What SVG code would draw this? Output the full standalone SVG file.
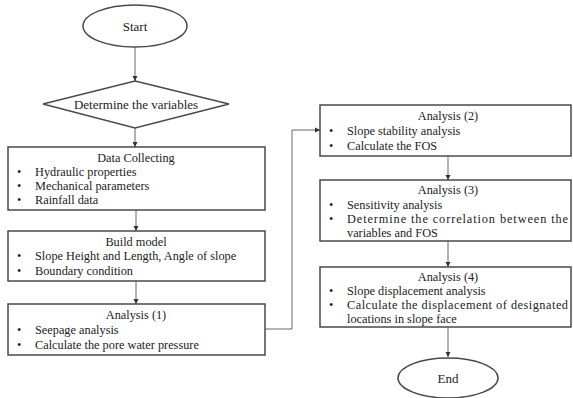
<svg xmlns="http://www.w3.org/2000/svg" width="573" height="398" viewBox="0 0 573 398">
<style>
.s{fill:#fff;stroke:#4a4a4a;stroke-width:1.5}
.t{font-family:"Liberation Serif","Times New Roman",serif;font-size:12.3px;fill:#222}
.d{font-size:13px}
.c{text-anchor:middle}
.l{fill:none;stroke:#666;stroke-width:1}
</style>
<defs>
<marker id="a" markerWidth="6" markerHeight="6" refX="5" refY="3" orient="auto" markerUnits="userSpaceOnUse">
<path d="M0,0.5 L5,3 L0,5.5 Z" fill="#333"/>
</marker>
</defs>
<rect width="573" height="398" fill="#fff"/>
<g id="connectors">
<line class="l" x1="135" y1="46" x2="135" y2="81" marker-end="url(#a)"/>
<line class="l" x1="135" y1="128" x2="135" y2="147" marker-end="url(#a)"/>
<line class="l" x1="136" y1="210" x2="136" y2="231" marker-end="url(#a)"/>
<line class="l" x1="136" y1="281" x2="136" y2="304" marker-end="url(#a)"/>
<polyline class="l" points="265,329 292,329 292,130 320,130" marker-end="url(#a)"/>
<line class="l" x1="448" y1="156" x2="448" y2="180" marker-end="url(#a)"/>
<line class="l" x1="448" y1="241" x2="448" y2="267" marker-end="url(#a)"/>
<line class="l" x1="448" y1="327" x2="448" y2="357" marker-end="url(#a)"/>
</g>
<g id="start">
<ellipse class="s" cx="135" cy="26" rx="52" ry="21"/>
<text class="t d c" x="135" y="31">Start</text>
</g>
<g id="determine">
<polygon class="s" points="135,81 229,104 135,128 43,104"/>
<text class="t d c" x="136" y="109">Determine the variables</text>
</g>
<g id="data">
<rect class="s" x="8" y="147" width="257" height="63"/>
<text class="t c" x="136" y="162">Data Collecting</text>
<text class="t" x="17" y="176">•</text><text class="t" x="35" y="176">Hydraulic properties</text>
<text class="t" x="17" y="190">•</text><text class="t" x="35" y="190">Mechanical parameters</text>
<text class="t" x="17" y="204">•</text><text class="t" x="35" y="204">Rainfall data</text>
</g>
<g id="build">
<rect class="s" x="8" y="231" width="257" height="50"/>
<text class="t c" x="136" y="246">Build model</text>
<text class="t" x="17" y="260">•</text><text class="t" x="35" y="260">Slope Height and Length, Angle of slope</text>
<text class="t" x="17" y="275">•</text><text class="t" x="35" y="275">Boundary condition</text>
</g>
<g id="analysis1">
<rect class="s" x="8" y="304" width="257" height="51"/>
<text class="t c" x="136" y="319">Analysis (1)</text>
<text class="t" x="17" y="334">•</text><text class="t" x="35" y="334">Seepage analysis</text>
<text class="t" x="17" y="349">•</text><text class="t" x="35" y="349">Calculate the pore water pressure</text>
</g>
<g id="analysis2">
<rect class="s" x="320" y="105" width="251" height="51"/>
<text class="t c" x="448" y="120">Analysis (2)</text>
<text class="t" x="329" y="135">•</text><text class="t" x="347" y="135">Slope stability analysis</text>
<text class="t" x="329" y="150">•</text><text class="t" x="347" y="150">Calculate the FOS</text>
</g>
<g id="analysis3">
<rect class="s" x="320" y="180" width="251" height="61"/>
<text class="t c" x="448" y="194">Analysis (3)</text>
<text class="t" x="329" y="209">•</text><text class="t" x="347" y="209">Sensitivity analysis</text>
<text class="t" x="329" y="223">•</text><text class="t" x="347" y="223" textLength="221" lengthAdjust="spacing">Determine the correlation between the</text>
<text class="t" x="347" y="237">variables and FOS</text>
</g>
<g id="analysis4">
<rect class="s" x="320" y="267" width="251" height="60"/>
<text class="t c" x="448" y="281">Analysis (4)</text>
<text class="t" x="329" y="295">•</text><text class="t" x="347" y="295">Slope displacement analysis</text>
<text class="t" x="329" y="309">•</text><text class="t" x="347" y="309" textLength="221" lengthAdjust="spacing">Calculate the displacement of designated</text>
<text class="t" x="347" y="323">locations in slope face</text>
</g>
<g id="end">
<ellipse class="s" cx="448" cy="378" rx="50" ry="20"/>
<text class="t d c" x="448" y="383">End</text>
</g>
</svg>
